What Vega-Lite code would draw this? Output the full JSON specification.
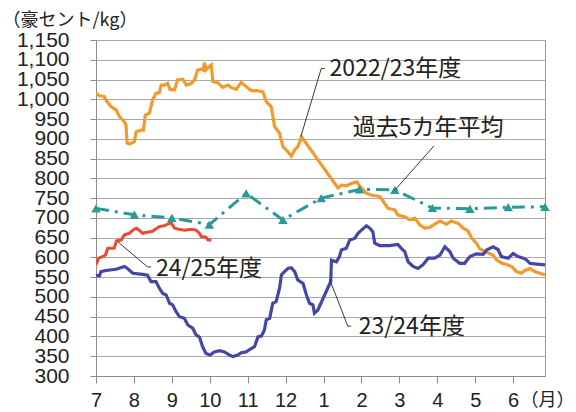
{
  "$schema": "https://vega.github.io/schema/vega-lite/v6.json",
  "width": 449,
  "height": 336,
  "autosize": {"type": "none"},
  "padding": {"left": 96, "top": 40, "right": 31, "bottom": 36},
  "background": "white",
  "config": {
    "view": {"stroke": "#9a9a9a", "strokeWidth": 1},
    "axis": {"labelFont": "Liberation Sans", "labelFontSize": 21, "labelColor": "#222222", "titleFont": "Noto Sans CJK JP", "titleFontWeight": "normal", "titleColor": "#222222", "domainColor": "#8c8c8c", "tickColor": "#8c8c8c", "gridColor": "#a8a8a8", "gridWidth": 1.2}
  },
  "datasets": {
    "lines": [
      {"s": "o", "t": 0.00, "v": 1015}, {"s": "o", "t": 0.09, "v": 1009}, {"s": "o", "t": 0.22, "v": 1007}, {"s": "o", "t": 0.26, "v": 998}, {"s": "o", "t": 0.40, "v": 981}, {"s": "o", "t": 0.53, "v": 973}, {"s": "o", "t": 0.62, "v": 956}, {"s": "o", "t": 0.75, "v": 943}, {"s": "o", "t": 0.79, "v": 935}, {"s": "o", "t": 0.82, "v": 889}, {"s": "o", "t": 0.88, "v": 887}, {"s": "o", "t": 1.01, "v": 893}, {"s": "o", "t": 1.06, "v": 918}, {"s": "o", "t": 1.19, "v": 922}, {"s": "o", "t": 1.25, "v": 922}, {"s": "o", "t": 1.30, "v": 960}, {"s": "o", "t": 1.41, "v": 965}, {"s": "o", "t": 1.49, "v": 998}, {"s": "o", "t": 1.58, "v": 1015}, {"s": "o", "t": 1.67, "v": 1017}, {"s": "o", "t": 1.72, "v": 1036}, {"s": "o", "t": 1.80, "v": 1036}, {"s": "o", "t": 1.89, "v": 1040}, {"s": "o", "t": 1.95, "v": 1025}, {"s": "o", "t": 2.07, "v": 1024}, {"s": "o", "t": 2.15, "v": 1049}, {"s": "o", "t": 2.29, "v": 1051}, {"s": "o", "t": 2.38, "v": 1036}, {"s": "o", "t": 2.51, "v": 1040}, {"s": "o", "t": 2.60, "v": 1049}, {"s": "o", "t": 2.68, "v": 1074}, {"s": "o", "t": 2.77, "v": 1076}, {"s": "o", "t": 2.83, "v": 1074}, {"s": "o", "t": 2.86, "v": 1093}, {"s": "o", "t": 2.90, "v": 1074}, {"s": "o", "t": 2.99, "v": 1083}, {"s": "o", "t": 3.04, "v": 1087}, {"s": "o", "t": 3.08, "v": 1045}, {"s": "o", "t": 3.21, "v": 1042}, {"s": "o", "t": 3.34, "v": 1030}, {"s": "o", "t": 3.48, "v": 1036}, {"s": "o", "t": 3.56, "v": 1030}, {"s": "o", "t": 3.70, "v": 1025}, {"s": "o", "t": 3.83, "v": 1043}, {"s": "o", "t": 3.96, "v": 1032}, {"s": "o", "t": 4.09, "v": 1022}, {"s": "o", "t": 4.23, "v": 1022}, {"s": "o", "t": 4.40, "v": 1019}, {"s": "o", "t": 4.49, "v": 994}, {"s": "o", "t": 4.62, "v": 981}, {"s": "o", "t": 4.71, "v": 931}, {"s": "o", "t": 4.84, "v": 914}, {"s": "o", "t": 4.93, "v": 880}, {"s": "o", "t": 5.06, "v": 867}, {"s": "o", "t": 5.15, "v": 856}, {"s": "o", "t": 5.24, "v": 872}, {"s": "o", "t": 5.32, "v": 880}, {"s": "o", "t": 5.42, "v": 905}, {"s": "o", "t": 6.38, "v": 776}, {"s": "o", "t": 6.47, "v": 783}, {"s": "o", "t": 6.60, "v": 781}, {"s": "o", "t": 6.73, "v": 787}, {"s": "o", "t": 6.88, "v": 791}, {"s": "o", "t": 6.93, "v": 783}, {"s": "o", "t": 7.13, "v": 762}, {"s": "o", "t": 7.26, "v": 758}, {"s": "o", "t": 7.48, "v": 754}, {"s": "o", "t": 7.61, "v": 737}, {"s": "o", "t": 7.70, "v": 724}, {"s": "o", "t": 7.88, "v": 720}, {"s": "o", "t": 7.96, "v": 707}, {"s": "o", "t": 8.14, "v": 703}, {"s": "o", "t": 8.27, "v": 695}, {"s": "o", "t": 8.41, "v": 699}, {"s": "o", "t": 8.54, "v": 682}, {"s": "o", "t": 8.67, "v": 674}, {"s": "o", "t": 8.80, "v": 676}, {"s": "o", "t": 8.93, "v": 684}, {"s": "o", "t": 9.07, "v": 692}, {"s": "o", "t": 9.24, "v": 684}, {"s": "o", "t": 9.37, "v": 692}, {"s": "o", "t": 9.55, "v": 686}, {"s": "o", "t": 9.68, "v": 674}, {"s": "o", "t": 9.81, "v": 667}, {"s": "o", "t": 9.91, "v": 648}, {"s": "o", "t": 10.03, "v": 636}, {"s": "o", "t": 10.12, "v": 622}, {"s": "o", "t": 10.25, "v": 615}, {"s": "o", "t": 10.47, "v": 606}, {"s": "o", "t": 10.56, "v": 594}, {"s": "o", "t": 10.69, "v": 586}, {"s": "o", "t": 10.87, "v": 581}, {"s": "o", "t": 10.97, "v": 576}, {"s": "o", "t": 11.09, "v": 564}, {"s": "o", "t": 11.22, "v": 560}, {"s": "o", "t": 11.31, "v": 567}, {"s": "o", "t": 11.44, "v": 572}, {"s": "o", "t": 11.57, "v": 564}, {"s": "o", "t": 11.70, "v": 560}, {"s": "o", "t": 11.84, "v": 556},
      {"s": "b", "t": 0.00, "v": 555}, {"s": "b", "t": 0.09, "v": 553}, {"s": "b", "t": 0.13, "v": 564}, {"s": "b", "t": 0.26, "v": 567}, {"s": "b", "t": 0.53, "v": 570}, {"s": "b", "t": 0.75, "v": 577}, {"s": "b", "t": 0.83, "v": 572}, {"s": "b", "t": 0.97, "v": 560}, {"s": "b", "t": 1.23, "v": 557}, {"s": "b", "t": 1.36, "v": 555}, {"s": "b", "t": 1.45, "v": 539}, {"s": "b", "t": 1.58, "v": 539}, {"s": "b", "t": 1.67, "v": 522}, {"s": "b", "t": 1.76, "v": 509}, {"s": "b", "t": 1.85, "v": 505}, {"s": "b", "t": 1.94, "v": 484}, {"s": "b", "t": 2.02, "v": 480}, {"s": "b", "t": 2.11, "v": 463}, {"s": "b", "t": 2.20, "v": 450}, {"s": "b", "t": 2.33, "v": 446}, {"s": "b", "t": 2.42, "v": 429}, {"s": "b", "t": 2.55, "v": 421}, {"s": "b", "t": 2.64, "v": 404}, {"s": "b", "t": 2.73, "v": 398}, {"s": "b", "t": 2.81, "v": 374}, {"s": "b", "t": 2.90, "v": 357}, {"s": "b", "t": 3.01, "v": 353}, {"s": "b", "t": 3.12, "v": 361}, {"s": "b", "t": 3.26, "v": 364}, {"s": "b", "t": 3.39, "v": 361}, {"s": "b", "t": 3.52, "v": 353}, {"s": "b", "t": 3.61, "v": 349}, {"s": "b", "t": 3.74, "v": 353}, {"s": "b", "t": 3.83, "v": 359}, {"s": "b", "t": 3.96, "v": 361}, {"s": "b", "t": 4.05, "v": 367}, {"s": "b", "t": 4.18, "v": 374}, {"s": "b", "t": 4.27, "v": 399}, {"s": "b", "t": 4.36, "v": 401}, {"s": "b", "t": 4.44, "v": 416}, {"s": "b", "t": 4.49, "v": 442}, {"s": "b", "t": 4.58, "v": 446}, {"s": "b", "t": 4.66, "v": 484}, {"s": "b", "t": 4.75, "v": 488}, {"s": "b", "t": 4.84, "v": 522}, {"s": "b", "t": 4.89, "v": 556}, {"s": "b", "t": 4.97, "v": 564}, {"s": "b", "t": 5.06, "v": 572}, {"s": "b", "t": 5.15, "v": 574}, {"s": "b", "t": 5.24, "v": 564}, {"s": "b", "t": 5.32, "v": 543}, {"s": "b", "t": 5.46, "v": 534}, {"s": "b", "t": 5.55, "v": 505}, {"s": "b", "t": 5.63, "v": 484}, {"s": "b", "t": 5.72, "v": 480}, {"s": "b", "t": 5.76, "v": 459}, {"s": "b", "t": 5.85, "v": 467}, {"s": "b", "t": 6.19, "v": 539}, {"s": "b", "t": 6.21, "v": 593}, {"s": "b", "t": 6.34, "v": 589}, {"s": "b", "t": 6.42, "v": 602}, {"s": "b", "t": 6.47, "v": 619}, {"s": "b", "t": 6.60, "v": 623}, {"s": "b", "t": 6.69, "v": 644}, {"s": "b", "t": 6.82, "v": 648}, {"s": "b", "t": 6.91, "v": 661}, {"s": "b", "t": 7.00, "v": 669}, {"s": "b", "t": 7.13, "v": 680}, {"s": "b", "t": 7.22, "v": 674}, {"s": "b", "t": 7.30, "v": 665}, {"s": "b", "t": 7.35, "v": 636}, {"s": "b", "t": 7.48, "v": 630}, {"s": "b", "t": 7.74, "v": 630}, {"s": "b", "t": 7.96, "v": 633}, {"s": "b", "t": 8.05, "v": 623}, {"s": "b", "t": 8.14, "v": 615}, {"s": "b", "t": 8.23, "v": 589}, {"s": "b", "t": 8.36, "v": 577}, {"s": "b", "t": 8.49, "v": 572}, {"s": "b", "t": 8.62, "v": 581}, {"s": "b", "t": 8.76, "v": 598}, {"s": "b", "t": 8.93, "v": 598}, {"s": "b", "t": 9.07, "v": 606}, {"s": "b", "t": 9.20, "v": 627}, {"s": "b", "t": 9.33, "v": 615}, {"s": "b", "t": 9.42, "v": 598}, {"s": "b", "t": 9.59, "v": 585}, {"s": "b", "t": 9.72, "v": 585}, {"s": "b", "t": 9.86, "v": 602}, {"s": "b", "t": 10.03, "v": 609}, {"s": "b", "t": 10.21, "v": 608}, {"s": "b", "t": 10.30, "v": 619}, {"s": "b", "t": 10.47, "v": 627}, {"s": "b", "t": 10.60, "v": 620}, {"s": "b", "t": 10.69, "v": 602}, {"s": "b", "t": 10.87, "v": 598}, {"s": "b", "t": 11.00, "v": 610}, {"s": "b", "t": 11.13, "v": 602}, {"s": "b", "t": 11.27, "v": 598}, {"s": "b", "t": 11.35, "v": 594}, {"s": "b", "t": 11.44, "v": 585}, {"s": "b", "t": 11.62, "v": 583}, {"s": "b", "t": 11.84, "v": 581},
      {"s": "r", "t": 0.00, "v": 581}, {"s": "r", "t": 0.07, "v": 598}, {"s": "r", "t": 0.17, "v": 602}, {"s": "r", "t": 0.25, "v": 606}, {"s": "r", "t": 0.31, "v": 623}, {"s": "r", "t": 0.48, "v": 623}, {"s": "r", "t": 0.54, "v": 642}, {"s": "r", "t": 0.66, "v": 644}, {"s": "r", "t": 0.75, "v": 657}, {"s": "r", "t": 0.88, "v": 661}, {"s": "r", "t": 0.97, "v": 669}, {"s": "r", "t": 1.06, "v": 674}, {"s": "r", "t": 1.14, "v": 669}, {"s": "r", "t": 1.23, "v": 661}, {"s": "r", "t": 1.32, "v": 663}, {"s": "r", "t": 1.49, "v": 666}, {"s": "r", "t": 1.67, "v": 678}, {"s": "r", "t": 1.80, "v": 680}, {"s": "r", "t": 1.89, "v": 684}, {"s": "r", "t": 1.98, "v": 688}, {"s": "r", "t": 2.07, "v": 674}, {"s": "r", "t": 2.20, "v": 671}, {"s": "r", "t": 2.33, "v": 669}, {"s": "r", "t": 2.51, "v": 671}, {"s": "r", "t": 2.64, "v": 669}, {"s": "r", "t": 2.73, "v": 661}, {"s": "r", "t": 2.77, "v": 653}, {"s": "r", "t": 2.90, "v": 651}, {"s": "r", "t": 2.95, "v": 644}, {"s": "r", "t": 3.04, "v": 644}
    ],
    "avg": [
      {"t": 0.00, "v": 724}, {"t": 1.01, "v": 708}, {"t": 2.00, "v": 700}, {"t": 2.99, "v": 683}, {"t": 3.96, "v": 762}, {"t": 4.93, "v": 695}, {"t": 5.94, "v": 750}, {"t": 6.95, "v": 772}, {"t": 7.88, "v": 771}, {"t": 8.87, "v": 725}, {"t": 9.86, "v": 723}, {"t": 10.87, "v": 727}, {"t": 11.84, "v": 728}
    ],
    "labels": [
      {"label": "2022/23年度", "t": 6.16, "v": 1077},
      {"label": "過去5カ年平均", "t": 6.77, "v": 927},
      {"label": "24/25年度", "t": 1.58, "v": 571},
      {"label": "23/24年度", "t": 6.93, "v": 423}
    ],
    "leaders": [
      {"t": 5.94, "v": 1078, "t2": 6.03, "v2": 1078},
      {"t": 5.94, "v": 1078, "t2": 5.40, "v2": 905},
      {"t": 8.91, "v": 882, "t2": 7.88, "v2": 770},
      {"t": 1.36, "v": 576, "t2": 1.45, "v2": 576},
      {"t": 1.36, "v": 576, "t2": 0.57, "v2": 640},
      {"t": 6.64, "v": 426, "t2": 6.73, "v2": 426},
      {"t": 6.64, "v": 426, "t2": 6.16, "v2": 545}
    ]
  },
  "encoding": {
    "x": {"field": "t", "type": "quantitative", "scale": {"domain": [0, 11.84], "nice": false, "zero": false},
      "axis": {"values": [0,1,2,3,4,5,6,7,8,9,10,11], "labelExpr": "[7,8,9,10,11,12,1,2,3,4,5,6][datum.value]", "grid": false, "tickSize": 7, "labelPadding": 7, "labelFontSize": 20, "labelFlush": false, "labelOverlap": false, "title": "（月）", "titleFontSize": 18, "titleAlign": "left", "titleBaseline": "middle", "titleX": 424, "titleY": 24, "titleAnchor": "start"}},
    "y": {"field": "v", "type": "quantitative", "scale": {"domain": [300, 1150], "nice": false, "zero": false},
      "axis": {"values": [300,350,400,450,500,550,600,650,700,750,800,850,900,950,1000,1050,1100,1150], "format": ",d", "grid": true, "tickSize": 6, "labelPadding": 21, "labelOverlap": false, "labelFlush": false, "labelBound": false, "title": "（豪セント/kg）", "titleFontSize": 18, "titleAngle": 0, "titleAlign": "left", "titleBaseline": "middle", "titleX": -94, "titleY": -20, "titleAnchor": "start"}}
  },
  "layer": [
    {
      "data": {"name": "lines"},
      "transform": [{"filter": "datum.s === 'o'"}],
      "mark": {"type": "line", "color": "#F39A2C", "strokeWidth": 3.2, "clip": true}
    },
    {
      "data": {"name": "lines"},
      "transform": [{"filter": "datum.s === 'b'"}],
      "mark": {"type": "line", "color": "#4547A6", "strokeWidth": 3.2, "clip": true}
    },
    {
      "data": {"name": "lines"},
      "transform": [{"filter": "datum.s === 'r'"}],
      "mark": {"type": "line", "color": "#EA4A2E", "strokeWidth": 3, "clip": true}
    },
    {
      "data": {"name": "avg"},
      "mark": {"type": "line", "color": "#269B97", "strokeWidth": 3, "strokeDash": [13, 6, 3, 6]}
    },
    {
      "data": {"name": "avg"},
      "mark": {"type": "point", "shape": "triangle-up", "filled": true, "color": "#269B97", "size": 90, "opacity": 1}
    },
    {
      "data": {"name": "leaders"},
      "mark": {"type": "rule", "color": "#222222", "strokeWidth": 0.9},
      "encoding": {"x2": {"field": "t2"}, "y2": {"field": "v2"}}
    },
    {
      "data": {"name": "labels"},
      "mark": {"type": "text", "align": "left", "baseline": "middle", "font": "Noto Sans CJK JP", "fontSize": 23, "color": "#222222"},
      "encoding": {"text": {"field": "label"}}
    }
  ]
}
